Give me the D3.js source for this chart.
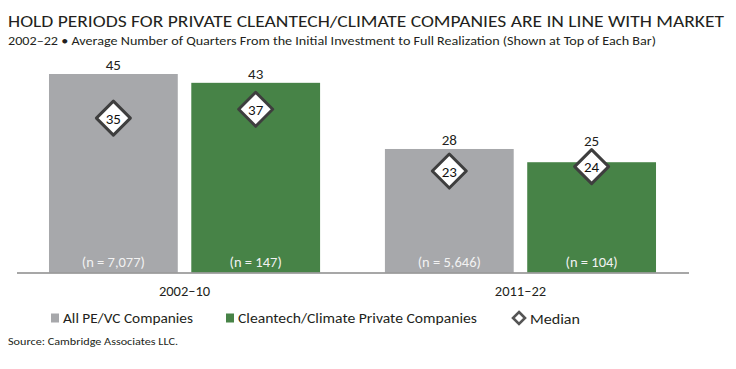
<!DOCTYPE html>
<html>
<head>
<meta charset="utf-8">
<script src="https://cdn.jsdelivr.net/npm/d3@7"></script>
<style>
  html, body { margin: 0; padding: 0; background: #fff; }
  svg text { font-family: Carlito, Lato, "Open Sans", sans-serif; }
</style>
</head>
<body>
<svg id="chart" width="736" height="369"></svg>
<script>
const periods = ["2002–10", "2011–22"];
const seriesNames = ["All PE/VC Companies", "Cleantech/Climate Private Companies"];
const averages = [[45, 43], [28, 25]];
const medians = [[35, 37], [23, 24]];
const counts = [["(n = 7,077)", "(n = 147)"], ["(n = 5,646)", "(n = 104)"]];
const colors = ["#a7a8ab", "#478347"];
const titleText = "HOLD PERIODS FOR PRIVATE CLEANTECH/CLIMATE COMPANIES ARE IN LINE WITH MARKET";
const subtitleText = "2002–22 • Average Number of Quarters From the Initial Investment to Full Realization (Shown at Top of Each Bar)";
const sourceText = "Source: Cambridge Associates LLC.";

const svg = d3.select("#chart");
const ink = "#231f20";

svg.append("text").attr("x", 8).attr("y", 27).attr("font-size", 16).attr("fill", ink)
  .attr("textLength", 716).attr("lengthAdjust", "spacingAndGlyphs").text(titleText);
svg.append("text").attr("x", 8).attr("y", 44.5).attr("font-size", 12).attr("fill", ink)
  .attr("textLength", 648).attr("lengthAdjust", "spacingAndGlyphs").text(subtitleText);

const x0 = d3.scaleBand().domain(periods).range([16.5, 688.5])
  .paddingInner(0.193).paddingOuter(0.0967);
const x1 = d3.scaleBand().domain(seriesNames).range([0, x0.bandwidth()])
  .paddingInner(0.095).paddingOuter(0);
const y = d3.scaleLinear().domain([0, 45]).range([272.5, 74]);

const rows = [];
periods.forEach((p, i) => seriesNames.forEach((s, j) => rows.push({
  p, s, j, avg: averages[i][j], med: medians[i][j], n: counts[i][j]
})));

const dh = 17;
const g = svg.append("g");
const bar = g.selectAll("g.bar").data(rows).join("g").attr("class", "bar")
  .attr("transform", d => `translate(${x0(d.p) + x1(d.s)},0)`);

bar.append("rect")
  .attr("x", 0).attr("width", x1.bandwidth())
  .attr("y", d => y(d.avg)).attr("height", d => y(0) - y(d.avg))
  .attr("fill", (d) => colors[d.j]);

bar.append("text").attr("x", x1.bandwidth() / 2)
  .attr("y", d => Math.min(y(d.avg) - 4, y(d.med) - dh - 4))
  .attr("text-anchor", "middle").attr("font-size", 15).attr("fill", ink)
  .text(d => d.avg);

bar.append("text").attr("x", x1.bandwidth() / 2).attr("y", y(0) - 6)
  .attr("text-anchor", "middle").attr("font-size", 14.5).attr("fill", "#f2f2f2")
  .text(d => d.n);

const diamond = `M0,${-dh}L${dh},0L0,${dh}L${-dh},0Z`;
bar.append("path")
  .attr("transform", d => `translate(${x1.bandwidth() / 2},${y(d.med)})`)
  .attr("d", diamond).attr("fill", "#fff").attr("stroke", "#3e3e3e")
  .attr("stroke-width", 3).attr("stroke-linejoin", "round");
bar.append("text").attr("x", x1.bandwidth() / 2).attr("y", d => y(d.med) + 5.5)
  .attr("text-anchor", "middle").attr("font-size", 15).attr("fill", "#111")
  .text(d => d.med);

// baseline axis
const xAxis = d3.axisBottom(x0).tickSize(0).tickPadding(13);
const axG = svg.append("g").attr("transform", `translate(0,${y(0)})`).call(xAxis);
axG.select(".domain").attr("stroke", "#8a8a8a").attr("stroke-width", 1.5);
axG.selectAll("text").attr("font-size", 14.5).attr("fill", ink)
  .style("font-family", "Carlito, Lato, sans-serif");

// legend
const leg = svg.append("g");
const legItems = [
  { type: "sq", color: colors[0], label: seriesNames[0], x: 51, tl: 130 },
  { type: "sq", color: colors[1], label: seriesNames[1], x: 226, tl: 239 },
  { type: "dm", label: "Median", x: 512, tl: 50 }
];
legItems.forEach(it => {
  if (it.type === "sq") {
    leg.append("rect").attr("x", it.x).attr("y", 313.5).attr("width", 8).attr("height", 9)
      .attr("fill", it.color);
    leg.append("text").attr("x", it.x + 12).attr("y", 322.5).attr("font-size", 13.5)
      .attr("fill", ink).attr("textLength", it.tl).attr("lengthAdjust", "spacingAndGlyphs")
      .text(it.label);
  } else {
    leg.append("path").attr("transform", `translate(${it.x + 7},318)`)
      .attr("d", "M0,-6L6,0L0,6L-6,0Z").attr("fill", "#fff")
      .attr("stroke", "#555").attr("stroke-width", 2.6);
    leg.append("text").attr("x", it.x + 18).attr("y", 323.5).attr("font-size", 13.5)
      .attr("fill", ink).attr("textLength", it.tl).attr("lengthAdjust", "spacingAndGlyphs")
      .text(it.label);
  }
});

svg.append("text").attr("x", 8).attr("y", 345).attr("font-size", 10.5).attr("fill", ink)
  .attr("textLength", 170).attr("lengthAdjust", "spacingAndGlyphs").text(sourceText);
</script>
</body>
</html>
